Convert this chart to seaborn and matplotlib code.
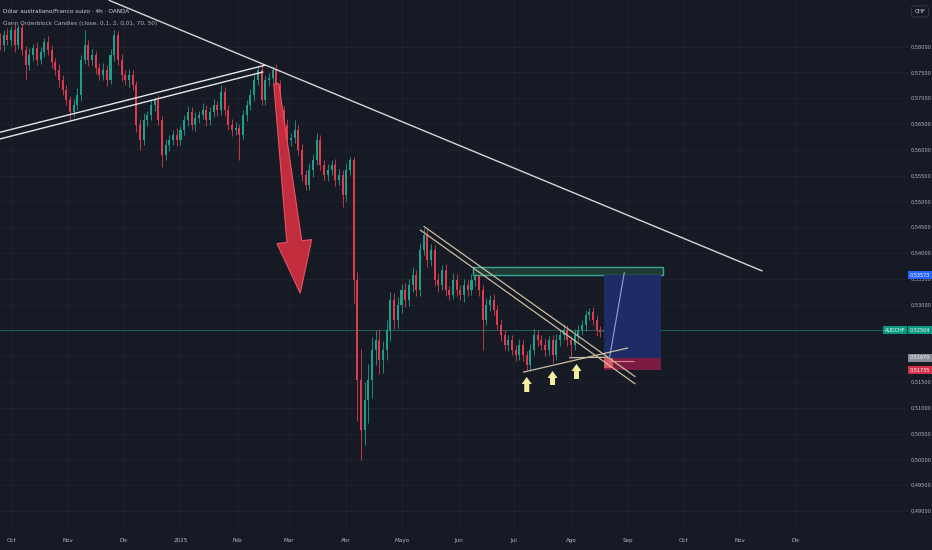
import numpy as np
import pandas as pd
import matplotlib
matplotlib.use('Agg')
import matplotlib.pyplot as plt
import matplotlib.dates as mdates
from matplotlib import font_manager
from matplotlib.patches import Polygon, Rectangle
import seaborn as sns

# AUDCHF, 2-day candles, first candle 25 Sep 2024
first_candle = '2024-09-25'
first_open = 0.5815
close = [
    0.5803, 0.5822, 0.5813, 0.5832, 0.5803, 0.5836, 0.5793, 0.5764, 0.5784, 0.5797,
    0.5774, 0.5790, 0.5809, 0.5793, 0.5770, 0.5755, 0.5735, 0.5716, 0.5697, 0.5673,
    0.5687, 0.5706, 0.5774, 0.5803, 0.5774, 0.5784, 0.5759, 0.5745, 0.5755, 0.5735,
    0.5784, 0.5822, 0.5774, 0.5745, 0.5735, 0.5745, 0.5726, 0.5648, 0.5619, 0.5658,
    0.5667, 0.5687, 0.5697, 0.5658, 0.5590, 0.5609, 0.5619, 0.5629, 0.5619, 0.5638,
    0.5658, 0.5673, 0.5648, 0.5662, 0.5667, 0.5677, 0.5658, 0.5673, 0.5687, 0.5677,
    0.5712, 0.5677, 0.5648, 0.5638, 0.5642, 0.5629, 0.5667, 0.5687, 0.5706, 0.5735,
    0.5755, 0.5697, 0.5735, 0.5739, 0.5755, 0.5726, 0.5677, 0.5648, 0.5619, 0.5623,
    0.5638, 0.5600, 0.5551, 0.5532, 0.5561, 0.5580, 0.5619, 0.5571, 0.5551, 0.5561,
    0.5571, 0.5541, 0.5551, 0.5512, 0.5561, 0.5580, 0.5348, 0.5154, 0.5057, 0.5115,
    0.5154, 0.5212, 0.5231, 0.5193, 0.5212, 0.5251, 0.5309, 0.5270, 0.5299, 0.5328,
    0.5309, 0.5338, 0.5357, 0.5328, 0.5406, 0.5435, 0.5386, 0.5406, 0.5348, 0.5338,
    0.5367, 0.5328, 0.5319, 0.5348, 0.5328, 0.5319, 0.5338, 0.5328, 0.5348, 0.5363,
    0.5328, 0.5270, 0.5299, 0.5309, 0.5290, 0.5260, 0.5241, 0.5222, 0.5231, 0.5212,
    0.5202, 0.5222, 0.5202, 0.5183, 0.5212, 0.5241, 0.5231, 0.5222, 0.5212, 0.5231,
    0.5202, 0.5231, 0.5241, 0.5251, 0.5231, 0.5222, 0.5241, 0.5251, 0.5260, 0.5280,
    0.5286, 0.5270, 0.5251, 0.5247, 0.5250,
]
# wick lengths in pips above / below the body
up_wick = [
    12, 10, 14, 8, 12, 6, 10, 9, 13, 8,
    11, 9, 7, 12, 10, 8, 11, 9, 10, 8,
    12, 14, 10, 29, 9, 12, 8, 10, 13, 9,
    11, 10, 8, 12, 9, 11, 10, 8, 12, 14,
    9, 11, 5, 10, 8, 12, 9, 10, 13, 8,
    10, 12, 9, 11, 8, 13, 10, 9, 12, 8,
    14, 10, 9, 11, 12, 8, 10, 9, 11, 12,
    7, 13, 10, 9, 7, 12, 10, 8, 11, 9,
    20, 10, 12, 9, 14, 11, 13, 10, 9, 12,
    10, 11, 12, 9, 13, 6, 6, 15, 60, 35,
    30, 25, 20, 22, 18, 20, 16, 14, 15, 12,
    13, 12, 15, 10, 14, 13, 11, 12, 9, 14,
    10, 12, 9, 13, 11, 10, 12, 9, 11, 8,
    12, 10, 13, 9, 11, 10, 12, 9, 10, 11,
    9, 12, 10, 8, 11, 12, 9, 10, 13, 9,
    10, 12, 9, 11, 10, 8, 12, 9, 11, 10,
    7, 10, 9, 8, 6,
]
down_wick = [
    10, 12, 9, 11, 13, 8, 10, 29, 9, 12,
    10, 8, 11, 9, 12, 10, 13, 9, 11, 15,
    10, 9, 12, 8, 11, 10, 13, 9, 10, 12,
    8, 11, 10, 12, 9, 13, 10, 14, 19, 10,
    12, 9, 11, 10, 23, 9, 12, 10, 11, 9,
    10, 11, 9, 12, 10, 8, 11, 10, 9, 12,
    10, 11, 9, 12, 10, 49, 9, 11, 10, 12,
    9, 11, 10, 12, 9, 10, 13, 11, 9, 12,
    10, 11, 12, 9, 10, 13, 9, 11, 10, 12,
    9, 11, 10, 23, 12, 10, 45, 80, 58, 30,
    45, 35, 30, 28, 25, 20, 22, 18, 16, 15,
    14, 12, 13, 11, 12, 10, 14, 11, 12, 13,
    10, 12, 11, 9, 12, 10, 13, 11, 9, 12,
    11, 58, 10, 12, 11, 9, 12, 10, 11, 9,
    12, 10, 11, 10, 12, 9, 11, 10, 12, 9,
    15, 10, 11, 9, 12, 24, 10, 11, 9, 12,
    10, 9, 11, 10, 8,
]

price_ticks = [0.49, 0.495, 0.50, 0.505, 0.51, 0.515, 0.52, 0.525, 0.53,
               0.535, 0.54, 0.545, 0.55, 0.555, 0.56, 0.565, 0.57, 0.575, 0.58]
month_ticks = ['2024-10-01', '2024-11-01', '2024-12-01', '2025-01-01', '2025-02-01',
               '2025-03-01', '2025-04-01', '2025-05-01', '2025-06-01', '2025-07-01',
               '2025-08-01', '2025-09-01', '2025-10-01', '2025-11-01', '2025-12-01']
month_labels = ['Oct', 'Nov', 'Dic', '2025', 'Feb', 'Mar', 'Abr', 'Mayo', 'Jun', 'Jul',
                'Ago', 'Sep', 'Oct', 'Nov', 'Dic']

last_price = 0.52504
entry_price = 0.51970
target_price = 0.53573
stop_price = 0.51735

# drawings: (start date, start price, end date, end price)
long_trend = ('2024-11-23', 0.5890, '2025-11-13', 0.5365)
channel_top = ('2024-09-25', 0.5634, '2025-02-16', 0.5764)
channel_bot = ('2024-09-25', 0.5621, '2025-02-15', 0.5751)
wedge_a = ('2025-05-11', 0.5445, '2025-09-05', 0.5146)
wedge_b = ('2025-05-13', 0.5452, '2025-09-05', 0.5160)
support = ('2025-07-06', 0.5169, '2025-09-01', 0.5216)
entry_stub = ('2025-07-31', 0.5197, '2025-08-21', 0.5198)
stop_stub = ('2025-08-21', 0.5191, '2025-09-04', 0.5191)
path_line = ('2025-08-22', 0.5198, '2025-08-30', 0.5363)
zone = ('2025-06-09', 0.5357, '2025-09-20', 0.5373)
position = ('2025-08-19', '2025-09-19')
arrow_down = ('2025-02-22', 0.5728, '2025-03-07', 0.5322)
arrows_up = [('2025-07-08', 0.51306, 0.51597),
             ('2025-07-22', 0.51442, 0.51713),
             ('2025-08-04', 0.51558, 0.51849)]

bg = '#161a25'
grid_c = '#20242f'
text_c = '#b2b5be'
up_c = '#1f9e89'
down_c = '#e03a4e'
tan = '#cdbd9e'

sns.set_theme(style='dark', rc={'axes.facecolor': bg, 'figure.facecolor': bg,
                                'grid.color': grid_c})

# TradingView text in the screenshot is squeezed: prefer a narrow face if one exists
narrow, stretch = 'DejaVu Sans', 'normal'
for f in font_manager.fontManager.ttflist:
    if 'Narrow' in f.name or 'Condensed' in f.name or str(f.stretch) in ('condensed', 'semi-condensed'):
        narrow, stretch = f.name, str(f.stretch)
        break
plt.rcParams['font.family'] = [narrow, 'DejaVu Sans']
plt.rcParams['font.stretch'] = stretch

df = pd.DataFrame({'date': pd.date_range(first_candle, periods=len(close), freq='2D'),
                   'close': close})
df['open'] = [first_open] + close[:-1]
df['high'] = df[['open', 'close']].max(axis=1) + np.array(up_wick) * 1e-4
df['low'] = df[['open', 'close']].min(axis=1) - np.array(down_wick) * 1e-4
df['x'] = mdates.date2num(df['date'])
df['color'] = np.where(df['close'] >= df['open'], up_c, down_c)

fig = plt.figure(figsize=(9.32, 5.5), dpi=100)
ax = fig.add_axes([0, 18 / 550, 908 / 932, 532 / 550])
ax.set_xlim(mdates.date2num(pd.Timestamp('2024-09-25')), mdates.date2num(pd.Timestamp('2026-01-31')))
ax.set_ylim(0.48593, 0.58903)
ax.set_axisbelow(True)
ax.grid(True, color=grid_c, lw=0.6)
sns.despine(ax=ax, left=True, bottom=True, right=True, top=True)


def d2n(s):
    return mdates.date2num(pd.Timestamp(s))


# candles
ax.vlines(df['x'], df['low'], df['high'], colors=df['color'], lw=0.6, zorder=3)
body = (df['close'] - df['open']).abs().clip(lower=0.00012)
ax.bar(df['x'], body, bottom=df[['open', 'close']].min(axis=1), width=1.1,
       color=df['color'], lw=0, zorder=4)

# current price line
ax.axhline(last_price, color='#1f5f5a', lw=0.7, zorder=2)


def seg(line, color, lw=1.0, z=5):
    ax.plot([d2n(line[0]), d2n(line[2])], [line[1], line[3]], color=color, lw=lw,
            zorder=z, solid_capstyle='butt')


seg(long_trend, '#d6d6d6', 1.0)
seg(channel_top, '#e6e6e6', 1.0)
seg(channel_bot, '#e6e6e6', 1.0)

# green zone
ax.add_patch(Rectangle((d2n(zone[0]), zone[1]), d2n(zone[2]) - d2n(zone[0]), zone[3] - zone[1],
                       fc='#1d3b33', ec='#3aa596', lw=1.0, zorder=5))

# long position tool
px0, px1 = d2n(position[0]), d2n(position[1])
ax.add_patch(Rectangle((px0, entry_price), px1 - px0, target_price - entry_price,
                       fc='#1e2c66', ec='none', zorder=5))
ax.add_patch(Rectangle((px0, stop_price), px1 - px0, entry_price - stop_price,
                       fc='#7d1c42', ec='none', zorder=5))
ax.add_patch(Rectangle((px0, 0.5177), d2n('2025-08-24') - px0, entry_price - 0.5177,
                       fc='#d9506a', ec='none', zorder=6))
seg(path_line, '#8fa3d6', 0.8, 7)
seg(stop_stub, '#e77b86', 0.8, 7)

seg(wedge_a, tan, 0.9, 8)
seg(wedge_b, tan, 0.9, 8)
seg(support, tan, 0.9, 8)
seg(entry_stub, tan, 0.9, 8)


def block_arrow(tail, tip, tail_w, shaft_w, head_w, head_len, **kw):
    t = ax.transData
    p0 = t.transform(tail)
    p1 = t.transform(tip)
    d = p1 - p0
    u = d / np.hypot(*d)
    n = np.array([-u[1], u[0]])
    base = p1 - u * head_len
    pts = [p0 + n * tail_w / 2, base + n * shaft_w / 2, base + n * head_w / 2, p1,
           base - n * head_w / 2, base - n * shaft_w / 2, p0 - n * tail_w / 2]
    ax.add_patch(Polygon(t.inverted().transform(pts), closed=True, **kw))


block_arrow((d2n(arrow_down[0]), arrow_down[1]), (d2n(arrow_down[2]), arrow_down[3]),
            5, 15, 35, 52, fc='#cc2f40', ec='#ea5563', lw=0.8, alpha=0.95, zorder=9)
for day, lo, hi in arrows_up:
    block_arrow((d2n(day), lo), (d2n(day), hi), 5, 5, 10, 7,
                fc='#f5f0a0', ec='none', zorder=9)

# axes labels
ax.yaxis.tick_right()
ax.set_yticks(price_ticks)
ax.set_yticklabels([f'{v:.5f}'.replace('.', ',') for v in price_ticks])
ax.set_xticks([d2n(m) for m in month_ticks])
ax.set_xticklabels(month_labels)
ax.tick_params(axis='y', length=0, pad=2, labelsize=4.1, labelcolor=text_c)
ax.tick_params(axis='x', length=0, pad=4, labelsize=4.5, labelcolor=text_c)

ytr = ax.get_yaxis_transform()


def tag(price, txt, fc, tc='white', xc=1.0135):
    ax.text(xc, price, txt, transform=ytr, ha='center', va='center', fontsize=4.0,
            color=tc, clip_on=False, zorder=20,
            bbox=dict(boxstyle='square,pad=0.3', fc=fc, ec='none'))


tag(target_price, f'{target_price:.5f}'.replace('.', ','), '#2962ff')
tag(last_price, f'{last_price:.5f}'.replace('.', ','), '#089981')
tag(last_price, 'AUDCHF', '#089981', xc=0.9855)
tag(entry_price, f'{entry_price:.5f}'.replace('.', ','), '#8a8d96')
tag(stop_price, f'{stop_price:.5f}'.replace('.', ','), '#d1304a')

ax.text(1.0132, 1 - 11.5 / 532, 'CHF', transform=ax.transAxes, ha='center', va='center',
        fontsize=4.5, color='#d1d4dc', clip_on=False,
        bbox=dict(boxstyle='round,pad=0.5', fc=bg, ec='#3a3e4a', lw=0.6))

ax.text(3 / 908, 1 - 12 / 532, 'Dólar australiano/Franco suizo · 4h · OANDA',
        transform=ax.transAxes, ha='left', va='center', fontsize=4.6, color='#d1d4dc', zorder=20)
ax.text(3 / 908, 1 - 23 / 532, 'Gann Orderblock Candles (close, 0,1, 2, 0,01, 70, 50)',
        transform=ax.transAxes, ha='left', va='center', fontsize=4.6, color='#b2b5be', zorder=20)

fig.savefig('out.png', dpi=100, facecolor=bg)
